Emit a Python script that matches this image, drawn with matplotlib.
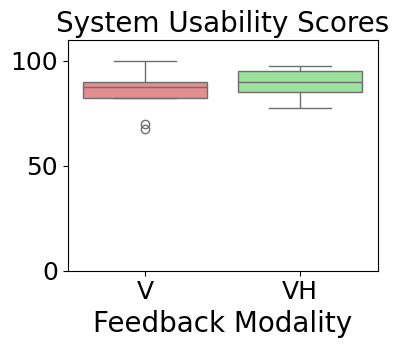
import pandas as pd
import seaborn as sns
import matplotlib
matplotlib.use("Agg")
import matplotlib.pyplot as plt

# SUS scores per feedback modality
modality = ["V", "VH"]
scores_v = [67.5, 70, 82.5, 82.5, 82.5, 85, 87.5, 87.5, 90, 90, 90, 92.5, 100]
scores_vh = [77.5, 82.5, 85, 85, 87.5, 90, 90, 92.5, 95, 95, 97.5, 97.5, 97.5]

df = pd.DataFrame({
    "Modality": [modality[0]] * len(scores_v) + [modality[1]] * len(scores_vh),
    "SUS": scores_v + scores_vh,
})

fig, ax = plt.subplots(figsize=(3.98, 3.48), dpi=100)
fig.subplots_adjust(left=0.170, right=0.949, top=0.885, bottom=0.222)

sns.boxplot(data=df, x="Modality", y="SUS", hue="Modality",
            palette=["lightcoral", "lightgreen"], legend=False, ax=ax)

ax.set_ylim(0, 110)
ax.set_yticks([0, 50, 100])
ax.set_title("System Usability Scores", fontsize=20)
ax.set_xlabel("Feedback Modality", fontsize=20)
ax.set_ylabel("")
ax.tick_params(labelsize=18)

plt.savefig("out.png", dpi=100)
